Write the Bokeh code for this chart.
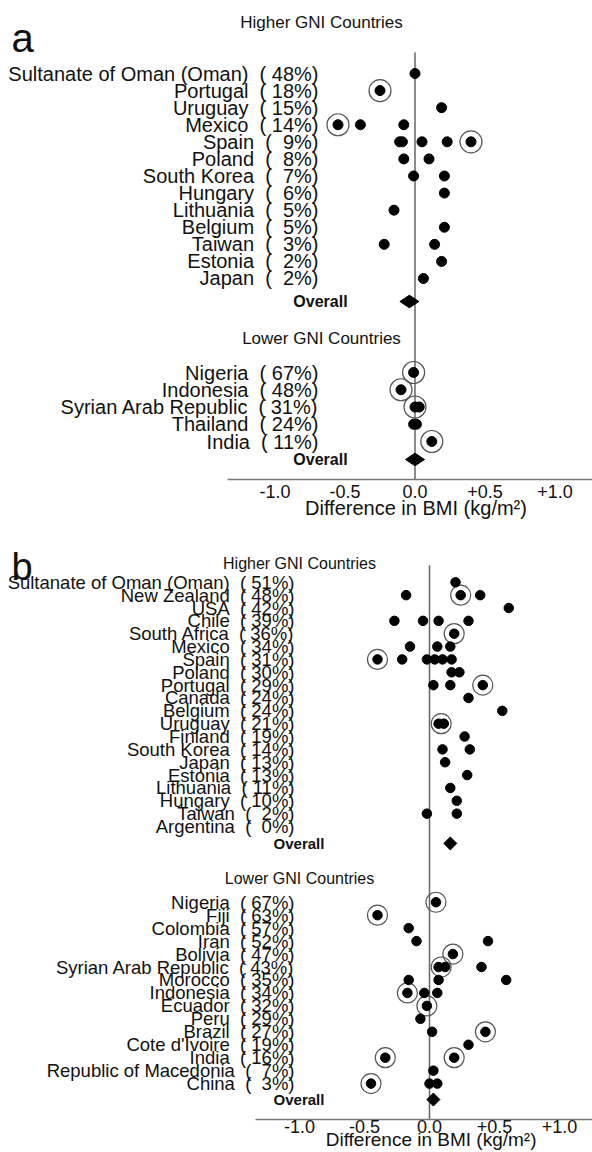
import math
from bokeh.plotting import figure
from bokeh.models import Range1d, FixedTicker, CustomJSTickFormatter
from bokeh.layouts import column
from bokeh.embed import file_html
from bokeh.resources import INLINE
from bokeh.core.properties import value

FONT = "Liberation Sans"
NB = "\u00a0"

# ---------------- data ----------------
tick_values = [-1.0, -0.5, 0.0, 0.5, 1.0]
axis_title = "Difference in BMI (kg/m²)"
group_titles = ["Higher GNI Countries", "Lower GNI Countries"]
overall_label = "Overall"

# Panel a, higher GNI
a_hi_countries = ["Sultanate of Oman (Oman)", "Portugal", "Uruguay", "Mexico", "Spain", "Poland",
                  "South Korea", "Hungary", "Lithuania", "Belgium", "Taiwan", "Estonia", "Japan"]
a_hi_pct = [48, 18, 15, 14, 9, 8, 7, 6, 5, 5, 3, 2, 2]
a_hi_values = [[0.00], [-0.25], [0.19], [-0.55, -0.39, -0.08], [-0.11, -0.09, 0.05, 0.23, 0.40],
               [-0.08, 0.10], [-0.01, 0.21], [0.21], [-0.15], [0.21], [-0.22, 0.14], [0.19], [0.06]]
a_hi_circled = [[], [-0.25], [], [-0.55], [0.40], [], [], [], [], [], [], [], []]
a_hi_overall = -0.04

# Panel a, lower GNI
a_lo_countries = ["Nigeria", "Indonesia", "Syrian Arab Republic", "Thailand", "India"]
a_lo_pct = [67, 48, 31, 24, 11]
a_lo_values = [[-0.01], [-0.10], [0.00, 0.03], [-0.01, 0.01], [0.12]]
a_lo_circled = [[-0.01], [-0.10], [0.00], [], [0.12]]
a_lo_overall = 0.00

# Panel b, higher GNI
b_hi_countries = ["Sultanate of Oman (Oman)", "New Zealand", "USA", "Chile", "South Africa", "Mexico",
                  "Spain", "Poland", "Portugal", "Canada", "Belgium", "Uruguay", "Finland",
                  "South Korea", "Japan", "Estonia", "Lithuania", "Hungary", "Taiwan", "Argentina"]
b_hi_pct = [51, 48, 42, 39, 36, 34, 31, 30, 29, 24, 24, 21, 19, 14, 13, 13, 11, 10, 2, 0]
b_hi_values = [[0.20], [-0.18, 0.24, 0.39], [0.61], [-0.27, -0.05, 0.07, 0.30], [0.19],
               [-0.15, 0.06, 0.16], [-0.40, -0.21, -0.02, 0.04, 0.10, 0.17], [0.17, 0.23],
               [0.03, 0.16, 0.41], [0.30], [0.56], [0.07, 0.11], [0.27], [0.10, 0.31], [0.12],
               [0.29], [0.16], [0.21], [-0.02, 0.21], []]
b_hi_circled = [[], [0.24], [], [], [0.19], [], [-0.40], [], [0.41], [], [], [0.09], [], [], [],
                [], [], [], [], []]
b_hi_overall = 0.16

# Panel b, lower GNI
b_lo_countries = ["Nigeria", "Fiji", "Colombia", "Iran", "Bolivia", "Syrian Arab Republic", "Morocco",
                  "Indonesia", "Ecuador", "Peru", "Brazil", "Cote d'Ivoire", "India",
                  "Republic of Macedonia", "China"]
b_lo_pct = [67, 63, 57, 52, 47, 43, 35, 34, 32, 29, 27, 19, 16, 7, 3]
b_lo_values = [[0.05], [-0.40], [-0.16], [-0.10, 0.45], [0.18], [0.07, 0.12, 0.40],
               [-0.16, 0.07, 0.59], [-0.17, -0.04, 0.06], [-0.02], [-0.07], [0.02, 0.43], [0.30],
               [-0.34, 0.19], [0.03], [-0.45, 0.00, 0.06]]
b_lo_circled = [[0.05], [-0.40], [], [], [0.18], [0.09], [], [-0.17], [-0.02], [], [0.43], [],
                [-0.34, 0.19], [], [-0.45]]
b_lo_overall = 0.03


def build_panel(letter, groups, L):
    zero, scale = L["zero"], L["scale"]

    def X(px):
        return (px - zero) / scale

    frame_h = L["axis_y"] - L["top"]
    p = figure(width=592, height=L["height"],
               x_range=Range1d(X(0), X(592)), y_range=Range1d(L["axis_y"], L["top"]),
               output_backend="svg", toolbar_location=None, y_axis_location=None,
               min_border_left=0, min_border_right=0, min_border_top=0,
               min_border_bottom=L["height"] - frame_h)
    p.outline_line_color = None
    p.grid.visible = False
    p.background_fill_color = "white"
    p.border_fill_color = "white"

    # zero reference line
    p.segment(x0=[0], y0=[L["zero_top"]], x1=[0], y1=[L["axis_y"]],
              line_color="#666666", line_width=1.5)

    for g, title in zip(groups, group_titles):
        n = len(g["countries"])
        ys = [g["y0"] + i * g["step"] for i in range(n)]
        labels = [f"{c}{NB}{NB}({NB}{str(pc).rjust(2, NB)}%)"
                  for c, pc in zip(g["countries"], g["pct"])]
        p.text(x=[X(L["label_right"])] * n, y=ys, text=labels, text_align="right",
               text_baseline="middle", text_font=value(FONT),
               text_font_size=f"{L['label_fs']}px", text_color="#111111")
        p.text(x=[X(L["head_x"])], y=[g["head_y"]], text=[title], text_align="center",
               text_baseline="middle", text_font=value(FONT),
               text_font_size=f"{L['head_fs']}px", text_color="#111111")
        p.text(x=[X(L["overall_x"])], y=[g["overall_y"]], text=[overall_label],
               text_align="center", text_baseline="middle", text_font=value(FONT),
               text_font_style="bold", text_font_size=f"{L['overall_fs']}px",
               text_color="#111111")

        px, py, cx, cy = [], [], [], []
        for yv, vals, circ in zip(ys, g["values"], g["circled"]):
            for v in vals:
                px.append(v); py.append(yv)
            for v in circ:
                cx.append(v); cy.append(yv)
        p.scatter(x=cx, y=cy, marker="circle", size=L["ring"], fill_color=None,
                  line_color="#555555", line_width=1.2)
        p.scatter(x=px, y=py, marker="circle", size=L["dot"], fill_color="black",
                  line_color="black")
        p.scatter(x=[g["overall"]], y=[g["overall_y"]], marker=L["ov_marker"],
                  size=L["ov_size"], angle=L["ov_angle"], fill_color="black", line_color="black")

    p.text(x=[X(11)], y=[L["letter_base"]], text=[letter], text_baseline="alphabetic",
           text_align="left", text_font=value(FONT), text_font_size=f"{L['letter_fs']}px",
           text_color="#111111")

    ax = p.xaxis[0]
    ax.ticker = FixedTicker(ticks=tick_values)
    ax.formatter = CustomJSTickFormatter(code="return (tick > 0 ? '+' : '') + tick.toFixed(1);")
    ax.bounds = (X(L["axis_left"]), X(592))
    ax.major_tick_line_color = None
    ax.minor_tick_line_color = None
    ax.major_tick_out = 0
    ax.major_tick_in = 0
    ax.axis_line_color = "#777777"
    ax.axis_line_width = 1.5
    ax.major_label_text_font = FONT
    ax.major_label_text_font_size = "18px"
    ax.major_label_text_color = "#111111"
    ax.major_label_standoff = L["standoff"]
    # the axis label is centred on the frame; leading no-break spaces move it under the data area
    ax.axis_label = NB * L["title_pad"] + axis_title
    ax.axis_label_text_font = FONT
    ax.axis_label_text_font_style = "normal"
    ax.axis_label_text_font_size = f"{L['title_fs']}px"
    ax.axis_label_text_color = "#111111"
    ax.axis_label_standoff = L["title_standoff"]
    return p


LA = dict(zero=414.5, scale=140.0, top=0, axis_y=479, height=526, zero_top=52,
          label_right=318, label_fs=20, head_x=321, head_fs=17, overall_x=320, overall_fs=16,
          dot=10, ring=22, ov_marker="diamond", ov_size=19, ov_angle=math.pi / 2,
          letter_base=37, letter_fs=40, axis_left=227, standoff=5,
          title_fs=20, title_standoff=-4, title_pad=43)
groups_a = [
    dict(countries=a_hi_countries, pct=a_hi_pct, values=a_hi_values, circled=a_hi_circled,
         overall=a_hi_overall, head_y=22, y0=73, step=17.083, overall_y=301),
    dict(countries=a_lo_countries, pct=a_lo_pct, values=a_lo_values, circled=a_lo_circled,
         overall=a_lo_overall, head_y=338, y0=372, step=17.25, overall_y=459),
]

LB = dict(zero=429.0, scale=130.0, top=526, axis_y=1121, height=626, zero_top=565,
          label_right=294, label_fs=18.5, head_x=299, head_fs=16, overall_x=298.5, overall_fs=15,
          dot=9.5, ring=20, ov_marker="square", ov_size=9.2, ov_angle=math.pi / 4,
          letter_base=567, letter_fs=38, axis_left=255, standoff=0,
          title_fs=19, title_standoff=-7, title_pad=51)
groups_b = [
    dict(countries=b_hi_countries, pct=b_hi_pct, values=b_hi_values, circled=b_hi_circled,
         overall=b_hi_overall, head_y=563, y0=582, step=12.895, overall_y=844),
    dict(countries=b_lo_countries, pct=b_lo_pct, values=b_lo_values, circled=b_lo_circled,
         overall=b_lo_overall, head_y=879, y0=903, step=13.0, overall_y=1101),
]

pa = build_panel("a", groups_a, LA)
pb = build_panel("b", groups_b, LB)
layout = column(pa, pb, spacing=0)

open("out.html", "w").write(file_html(layout, INLINE))
